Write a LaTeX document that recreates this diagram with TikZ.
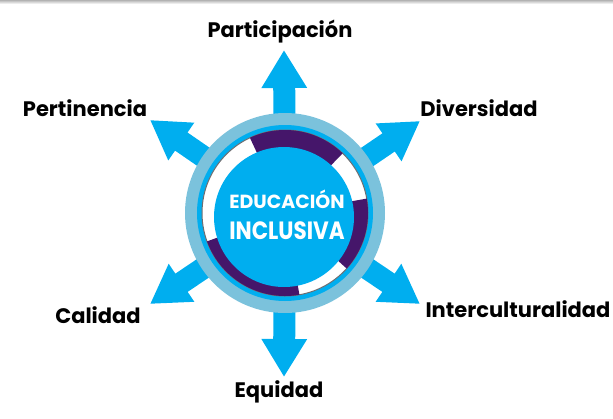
\documentclass[tikz,border=0pt]{standalone}
\usepackage{fontspec}
\setmainfont{Poppins}
\newfontfamily\narrowfont{Poppins}[FakeStretch=0.86]
\usetikzlibrary{arrows.meta, calc}
\definecolor{arrowblue}{HTML}{00AEEF}
\definecolor{ringblue}{HTML}{7BC2DC}
\definecolor{swirlpurple}{HTML}{45166A}
\definecolor{linegray}{HTML}{6D6E71}
\begin{document}
\begin{tikzpicture}[x=1pt, y=-1pt,
    bigarrow/.style={draw=arrowblue, line width=22pt, -{Triangle[width=43pt, length=38pt]}},
    label/.style={font=\bfseries\fontsize{21}{24}\selectfont, inner sep=0pt}]
    \useasboundingbox (0,0) rectangle (613,418);
    \shade[top color=black!30, bottom color=white] (0,0) rectangle (613,4);

    \coordinate (c) at (285, 213);
    \coordinate (tP) at (284, 50);
    \coordinate (tE) at (284, 377);
    \coordinate (tD) at (420, 121);
    \coordinate (tI) at (420, 304);
    \coordinate (tPe) at (150, 120);
    \coordinate (tC) at (150, 304);

    % 矢印
    \draw[bigarrow] (c) -- (tP);
    \draw[bigarrow] (c) -- (tE);
    \draw[bigarrow] (c) -- (tD);
    \draw[bigarrow] (c) -- (tI);
    \draw[bigarrow] (c) -- (tPe);
    \draw[bigarrow] (c) -- (tC);

    % 輪
    \node[circle, fill=ringblue, minimum size=200pt, inner sep=0pt] (ring) at (c) {};
    \node[circle, fill=arrowblue, minimum size=176pt, inner sep=0pt] (band) at (c) {};
    \node[circle, fill=white, draw=linegray, line width=1pt, minimum size=166pt, inner sep=0pt] (disc) at (c) {};
    \fill[swirlpurple] (c) -- ($(c)+(-46:83)$) arc[start angle=-46, end angle=-115, radius=83] -- cycle;
    \fill[swirlpurple] (c) -- ($(c)+(42:83)$) arc[start angle=42, end angle=-10, radius=83] -- cycle;
    \fill[swirlpurple] (c) -- ($(c)+(-200:83)$) arc[start angle=-200, end angle=-280, radius=83] -- cycle;
    \node[circle, fill=arrowblue, minimum size=140pt, inner sep=0pt] (core) at (284, 217) {};

    % 文字
    \node[text=white, align=center, inner sep=0pt] (title) at (287, 215)
        {{\bfseries\fontsize{19}{20}\selectfont EDUCACIÓN}\\[12pt]
         {\narrowfont\bfseries\fontsize{25}{26}\selectfont INCLUSIVA}};
    \node[label] (lP) at (280, 32) {Participación};
    \node[label] (lPe) at (85, 108) {Pertinencia};
    \node[label] (lD) at (479, 108) {Diversidad};
    \node[label] (lC) at (98, 315) {Calidad};
    \node[label] (lI) at (518, 309) {Interculturalidad};
    \node[label] (lE) at (279, 392) {Equidad};

\end{tikzpicture}
\end{document}
